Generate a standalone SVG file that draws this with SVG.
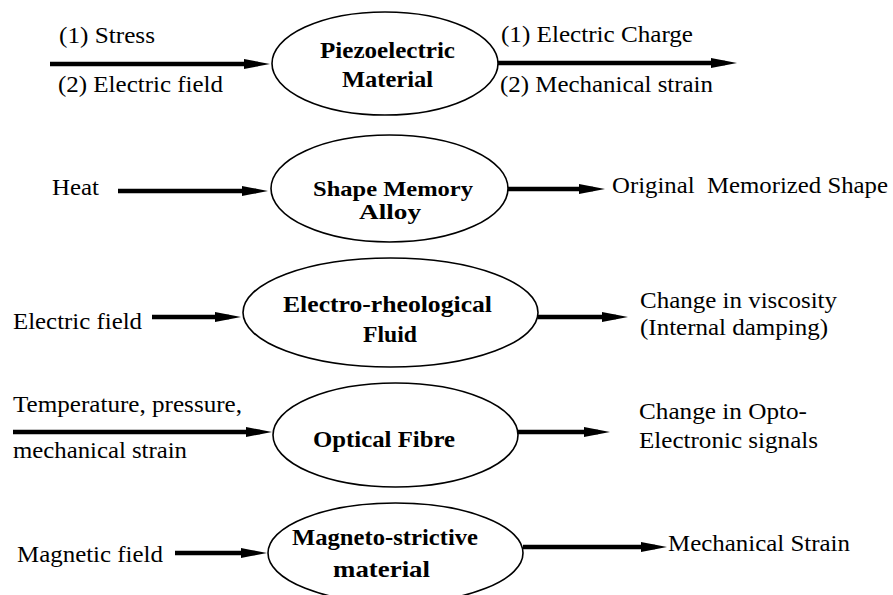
<svg xmlns="http://www.w3.org/2000/svg" width="893" height="595" viewBox="0 0 893 595">
<style>
text{font-family:"Liberation Serif","Times New Roman",Times,Tinos,FreeSerif,"Nimbus Roman","Nimbus Roman No9 L","DejaVu Serif","Noto Serif",serif;fill:#000}
.t{font-size:24px}
.b{font-size:23px;font-weight:bold;text-anchor:middle}
.n{fill:#fff;stroke:#000;stroke-width:1.6}
.a{stroke:#000;stroke-width:4.5;fill:none;marker-end:url(#ah)}
</style>
<defs>
<marker id="ah" markerWidth="26" markerHeight="12" refX="14" refY="6" orient="auto" markerUnits="userSpaceOnUse"><path d="M0,1 L26,6 L0,11 z" fill="#000"/></marker>
</defs>
<rect width="893" height="595" fill="#fff"/>
<g id="connectors">
<line class="a" x1="50" y1="64" x2="258" y2="64"/>
<line class="a" x1="498" y1="63" x2="725" y2="63"/>
<line class="a" x1="118" y1="191" x2="256" y2="191"/>
<line class="a" x1="508" y1="189" x2="593" y2="189"/>
<line class="a" x1="152" y1="317" x2="229" y2="317"/>
<line class="a" x1="538" y1="317" x2="616" y2="317"/>
<line class="a" x1="13" y1="432" x2="260" y2="432"/>
<line class="a" x1="518" y1="432" x2="598" y2="432"/>
<line class="a" x1="175" y1="553" x2="255" y2="553"/>
<line class="a" x1="523" y1="547" x2="655" y2="547"/>
</g>
<g id="labels">
<text class="t" x="59" y="43" textLength="96" lengthAdjust="spacingAndGlyphs">(1) Stress</text>
<text class="t" x="58" y="92" textLength="165" lengthAdjust="spacingAndGlyphs">(2) Electric field</text>
<text class="t" x="501" y="42" textLength="192" lengthAdjust="spacingAndGlyphs">(1) Electric Charge</text>
<text class="t" x="500" y="92" textLength="213" lengthAdjust="spacingAndGlyphs">(2) Mechanical strain</text>
<text class="t" x="52" y="195" textLength="47" lengthAdjust="spacingAndGlyphs">Heat</text>
<text class="t" x="612" y="193" textLength="276" lengthAdjust="spacingAndGlyphs" xml:space="preserve">Original  Memorized Shape</text>
<text class="t" x="13" y="329" textLength="129" lengthAdjust="spacingAndGlyphs">Electric field</text>
<text class="t" x="640" y="308" textLength="197" lengthAdjust="spacingAndGlyphs">Change in viscosity</text>
<text class="t" x="640" y="335" textLength="188" lengthAdjust="spacingAndGlyphs">(Internal damping)</text>
<text class="t" x="13" y="412" textLength="229" lengthAdjust="spacingAndGlyphs">Temperature, pressure,</text>
<text class="t" x="13" y="458" textLength="174" lengthAdjust="spacingAndGlyphs">mechanical strain</text>
<text class="t" x="639" y="419" textLength="168" lengthAdjust="spacingAndGlyphs">Change in Opto-</text>
<text class="t" x="639" y="448" textLength="179" lengthAdjust="spacingAndGlyphs">Electronic signals</text>
<text class="t" x="17" y="562" textLength="146" lengthAdjust="spacingAndGlyphs">Magnetic field</text>
<text class="t" x="668" y="551" textLength="182" lengthAdjust="spacingAndGlyphs">Mechanical Strain</text>
</g>
<g id="piezoelectric">
<ellipse class="n" cx="385" cy="63.5" rx="113" ry="51.5"/>
<text class="b" x="387.5" y="58" textLength="135" lengthAdjust="spacingAndGlyphs">Piezoelectric</text>
<text class="b" x="387.5" y="87" textLength="91" lengthAdjust="spacingAndGlyphs">Material</text>
</g>
<g id="sma">
<ellipse class="n" cx="389.5" cy="188.5" rx="118.5" ry="53.5"/>
<text class="b" x="393" y="196" style="font-size:21px" textLength="160" lengthAdjust="spacingAndGlyphs">Shape Memory</text>
<text class="b" x="390" y="219" style="font-size:21px" textLength="62" lengthAdjust="spacingAndGlyphs">Alloy</text>
</g>
<g id="erf">
<ellipse class="n" cx="390.5" cy="312.5" rx="147.5" ry="54.5"/>
<text class="b" x="387.5" y="312" textLength="209" lengthAdjust="spacingAndGlyphs">Electro-rheological</text>
<text class="b" x="390" y="342" textLength="54" lengthAdjust="spacingAndGlyphs">Fluid</text>
</g>
<g id="optical">
<ellipse class="n" cx="395.5" cy="435" rx="122.5" ry="52"/>
<text class="b" x="384" y="447" textLength="142" lengthAdjust="spacingAndGlyphs">Optical Fibre</text>
</g>
<g id="magneto">
<ellipse class="n" cx="395.5" cy="553" rx="127.5" ry="50"/>
<text class="b" x="385" y="545" textLength="186" lengthAdjust="spacingAndGlyphs">Magneto-strictive</text>
<text class="b" x="381.5" y="577" textLength="97" lengthAdjust="spacingAndGlyphs">material</text>
</g>
</svg>
